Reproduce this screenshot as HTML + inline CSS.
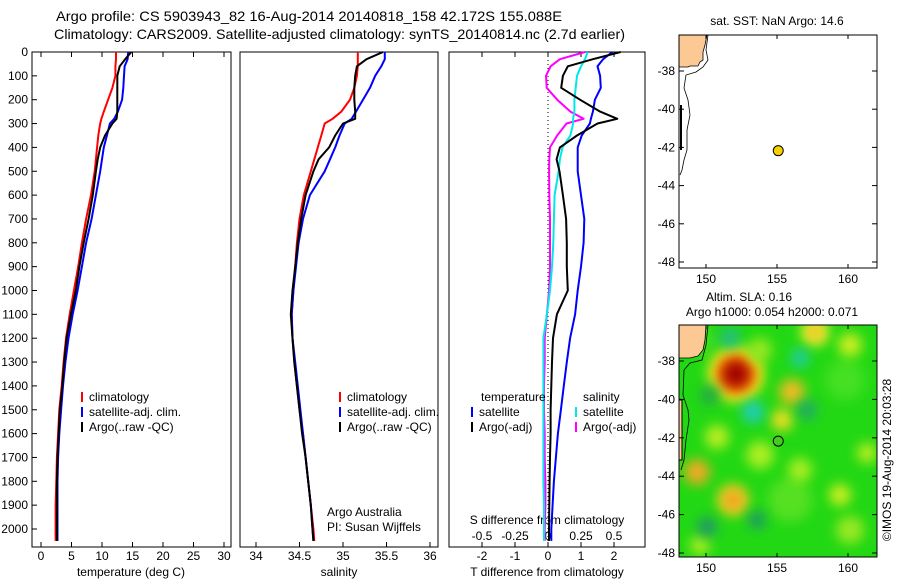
<!DOCTYPE html>
<html><head><meta charset="utf-8"><style>
html,body{margin:0;padding:0;background:#fff;}
svg{display:block;font-family:"Liberation Sans",sans-serif;}
text{font-size:12px;fill:#000;}
.t{font-size:14px;}
</style></head><body>
<svg id="c" width="900" height="580" viewBox="0 0 900 580">
<text class="t" x="56" y="21" textLength="506" lengthAdjust="spacingAndGlyphs">Argo profile: CS 5903943_82 16-Aug-2014 20140818_158 42.172S 155.088E</text>
<text class="t" x="54" y="39" textLength="571" lengthAdjust="spacingAndGlyphs">Climatology: CARS2009. Satellite-adjusted climatology: synTS_20140814.nc (2.7d earlier)</text>
<g id="g"></g>
</svg>
<script>
// ---- data ----
const depthsT = [0,30,60,100,150,200,250,280,300,350,400,450,500,600,700,800,900,1000,1100,1200,1300,1400,1500,1600,1700,1800,1900,2000,2050];
const tempClim = [12.3,12.3,12.2,12.2,11.7,11.0,10.3,9.9,9.7,9.4,9.2,9.0,8.8,8.2,7.4,6.7,6.1,5.4,4.7,4.1,3.7,3.4,3.0,2.8,2.6,2.5,2.4,2.4,2.4];
const tempSat = [14.3,14.2,13.7,13.6,13.5,13.3,12.6,12.0,11.3,10.8,10.3,10.0,9.7,9.0,8.3,7.4,6.7,6.0,5.2,4.5,4.0,3.6,3.3,3.0,2.8,2.7,2.7,2.7,2.7];
const tempArgo = [14.8,13.8,12.9,12.5,12.5,12.5,12.5,12.4,11.7,10.5,9.7,9.3,9.0,8.5,7.8,7.0,6.3,5.7,4.9,4.2,3.8,3.5,3.1,2.9,2.7,2.6,2.6,2.6,2.6];
const salClim = [35.17,35.17,35.17,35.16,35.13,35.08,34.98,34.88,34.79,34.75,34.71,34.67,34.63,34.55,34.50,34.47,34.45,34.43,34.41,34.42,34.44,34.47,34.50,34.54,34.57,34.60,34.63,34.66,34.67];
const salSat = [35.48,35.48,35.44,35.37,35.31,35.23,35.15,35.10,35.02,34.96,34.91,34.85,34.79,34.62,34.54,34.49,34.46,34.43,34.41,34.42,34.45,34.48,34.51,34.54,34.57,34.60,34.63,34.65,34.66];
const salArgo = [35.46,35.27,35.16,35.14,35.13,35.13,35.14,35.14,35.00,34.91,34.84,34.72,34.66,34.57,34.52,34.48,34.45,34.42,34.40,34.42,34.44,34.47,34.50,34.53,34.57,34.60,34.63,34.65,34.66];
const dT_argo = [2.2,1.36,0.6,0.45,0.4,0.97,1.58,2.1,1.5,0.88,0.36,0.26,0.35,0.45,0.55,0.57,0.57,0.6,0.27,0.15,0.12,0.1,0.08,0.08,0.06,0.05,0.04,0.03,0.03];
const dT_sat = [1.95,1.67,1.5,1.58,1.6,1.42,1.36,1.3,1.27,1.02,0.9,0.9,0.9,1.0,1.1,1.08,1.0,0.9,0.82,0.67,0.57,0.48,0.39,0.3,0.24,0.18,0.14,0.1,0.1];
const dS_argo = [0.28,0.09,0.02,-0.015,-0.01,0.07,0.17,0.27,0.14,0.07,0.015,0.01,0.008,0.01,0.015,0.015,0.015,0.008,-0.008,-0.025,-0.025,-0.03,-0.03,-0.025,-0.025,-0.02,-0.02,-0.025,-0.025];
const dS_sat = [0.3,0.28,0.25,0.22,0.21,0.2,0.2,0.19,0.19,0.17,0.11,0.09,0.08,0.05,0.045,0.04,0.03,0.015,-0.008,-0.035,-0.035,-0.035,-0.035,-0.035,-0.035,-0.035,-0.03,-0.03,-0.03];
const depthTicks = [0,100,200,300,400,500,600,700,800,900,1000,1100,1200,1300,1400,1500,1600,1700,1800,1900,2000];
const tempTicks = [0,5,10,15,20,25,30];
const salTicks = [34,34.5,35,35.5,36];
const dTTicks = [-2,-1,0,1,2];
const dSTicks = [-0.5,-0.25,0,0.25,0.5];
const dSTickLabels = ["-0.5","-0.25","0","0.25","0.5"];
const latTicks = [-38,-40,-42,-44,-46,-48];
const lonTicks = [150,155,160];
const argoLon = 155.088, argoLat = -42.172;

// ---- axis functions ----
const NS='http://www.w3.org/2000/svg';
const G=document.getElementById('g');
const yD = d => 52 + d*0.2385;
const xT = v => 41 + v*6.1;
const xS = v => 256 + (v-34)*87;
const xDT = v => 548 + v*33;
const xDS = v => 548 + v*132;
const lonX = v => 706 + (v-150)*14.2;
const lat1 = v => 71 + (-38 - v)*19.1;
const lat2 = v => 361 + (-38 - v)*19.2;

function mk(tag, attrs, parent){const e=document.createElementNS(NS,tag);for(const k in attrs)e.setAttribute(k,attrs[k]);(parent||G).appendChild(e);return e;}
function txt(x,y,s,anchor,parent){const e=mk('text',{x:x,y:y,'text-anchor':anchor||'start'},parent);e.textContent=s;return e;}
function line(vals, xf, color, name, w){
  const pts = vals.map((v,i)=>xf(v).toFixed(1)+','+yD(depthsT[i]).toFixed(1)).join(' ');
  const p=mk('polyline',{points:pts,fill:'none',stroke:color,'stroke-width':w||2,'stroke-linejoin':'round'});
  
  
}

// panel frames
const panels=[[32,231],[240,438],[449,645]];
panels.forEach((p,i)=>{
  const r=mk('rect',{x:p[0],y:52,width:p[1]-p[0],height:495,fill:'none',stroke:'#000','stroke-width':1});
  
  
});
depthTicks.forEach(d=>{
  const y=yD(d);
  mk('line',{x1:32,x2:37,y1:y,y2:y,stroke:'#000'});
  const t=txt(28,y+4,String(d),'end');
  
  
});
function xticks(ticks,f,labels,ylab,top){
  ticks.forEach((v,i)=>{
    const x=f(v);
    if(top){mk('line',{x1:x,x2:x,y1:52,y2:57,stroke:'#000'});}
    mk('line',{x1:x,x2:x,y1:547,y2:542,stroke:'#000'});
    const t=txt(x,ylab,labels?labels[i]:String(v),'middle');
    
    
  });
}
xticks(tempTicks,xT,null,560,true);
xticks(salTicks,xS,null,560,false);
xticks(dTTicks,xDT,null,560,false);
dSTicks.forEach(v=>{const x=xDS(v);mk('line',{x1:x,x2:x,y1:52,y2:57,stroke:'#000'});});
dSTicks.forEach((v,i)=>{const t=txt(xDS(v),540,dSTickLabels[i],'middle');
  
  });
[[131,576,'temperature (deg C)','x-axis-title-temperature'],[339,576,'salinity','x-axis-title-salinity'],[547,576,'T difference from climatology','x-axis-title-tdiff'],[547,524,'S difference from climatology','x-axis-title-sdiff']].forEach(a=>{
  const t=txt(a[0],a[1],a[2],'middle');
  
  
});
mk('line',{x1:548,x2:548,y1:52,y2:547,stroke:'#000','stroke-dasharray':'1,3'});

line(tempClim,xT,'#ff0000','temp-climatology-line');
line(tempSat,xT,'#0000ff','temp-satellite-line');
line(tempArgo,xT,'#000000','temp-argo-line');
line(salClim,xS,'#ff0000','sal-climatology-line');
line(salSat,xS,'#0000ff','sal-satellite-line');
line(salArgo,xS,'#000000','sal-argo-line');
line(dS_argo,xDS,'#ff00ff','sdiff-argo-line');
line(dS_sat,xDS,'#00e8e8','sdiff-satellite-line');
line(dT_sat,xDT,'#0000ff','tdiff-satellite-line');
line(dT_argo,xDT,'#000000','tdiff-argo-line');

function leg(x,y,color,label){
  mk('line',{x1:x,x2:x,y1:y-9,y2:y+1,stroke:color,'stroke-width':2});
  const t=txt(x+7,y,label);
  
  
}
[[82,'climatology','#ff0000'],[82,'satellite-adj. clim.','#0000ff'],[82,'Argo(..raw -QC)','#000000']].forEach((a,i)=>leg(a[0],401+i*15,a[2],a[1]));
[[340,'climatology','#ff0000'],[340,'satellite-adj. clim.','#0000ff'],[340,'Argo(..raw -QC)','#000000']].forEach((a,i)=>leg(a[0],401+i*15,a[2],a[1]));
txt(481,401,'temperature');txt(583,401,'salinity');
leg(472,416,'#0000ff','satellite');leg(472,431,'#000000','Argo(-adj)');
leg(576,416,'#00e8e8','satellite');leg(576,431,'#ff00ff','Argo(-adj)');
txt(327,516,'Argo Australia');txt(327,531,'PI: Susan Wijffels');

// ---- maps ----
function map(top,bot,idx){
  const defs=mk('defs',{});
  const cp=mk('clipPath',{id:'cp'+idx},defs);
  mk('rect',{x:679,y:top,width:198,height:bot-top},cp);
}
map(35,268,1);
const m1=mk('g',{'clip-path':'url(#cp1)'});


mk('rect',{x:679,y:35,width:198,height:233,fill:'#fff'},m1);
mk('path',{d:'M679,35 L707,35 L705,45 L703,52 L703,60 L700,62 L698,66 L690,66 L688,67 L679,67 Z',fill:'#fcc894',stroke:'#000','stroke-width':0.8},m1);
mk('path',{d:'M708,35 L706,50 L708,60 L703,67 L696,72 L686,75 L684,88 L688,100 L690,115 L687,130 L687,150 L684,160 L682,170 L680,175',fill:'none',stroke:'#000','stroke-width':0.8},m1);
mk('path',{d:'M681,105 L681,150',fill:'none',stroke:'#000','stroke-width':2},m1);
mk('rect',{x:679,y:35,width:198,height:233,fill:'none',stroke:'#000'});

map(325,557,2);
const m2=mk('g',{'clip-path':'url(#cp2)'});


const d2=mk('defs',{});
const f=mk('filter',{id:'bl',x:'-50%',y:'-50%',width:'200%',height:'200%'},d2);
mk('feGaussianBlur',{stdDeviation:6},f);
mk('rect',{x:679,y:325,width:198,height:232,fill:'#22d814'},m2);
const blobs=[[700,340,14,'#44e022'],[845,380,20,'#44e022'],[790,500,22,'#55e022'],[736,374,28,'#eeee22'],[736,374,20,'#ee6600'],[736,374,13,'#a00000'],[760,350,12,'#99e822'],[815,332,14,'#eeee33'],[815,332,7,'#eebb22'],[850,345,12,'#ccee22'],[792,392,13,'#eebb22'],[782,420,11,'#eedd22'],[697,472,13,'#eeaa22'],[733,500,16,'#eecc22'],[733,500,8,'#ee9922'],[840,495,11,'#ccee22'],[717,437,12,'#bbee22'],[867,453,10,'#bbee22'],[760,455,14,'#aaee22'],[800,470,12,'#aaee22'],[850,530,14,'#99e822'],[700,545,10,'#aaee22'],[730,338,10,'#22bb88'],[800,358,9,'#22ccaa'],[753,412,11,'#22ccbb'],[807,410,10,'#22aa66'],[707,527,10,'#229966'],[757,520,9,'#229966'],[710,395,10,'#22aa44']];
blobs.forEach(b=>{const c=mk('circle',{cx:b[0],cy:b[1],r:b[2],fill:b[3],filter:'url(#bl)'},m2);
  
  });
mk('path',{d:'M679,325 L706,325 L705,340 L703,350 L698,356 L690,358 L679,358 Z',fill:'#fcc894',stroke:'#000','stroke-width':0.8},m2);
mk('path',{d:'M708,325 L706,345 L702,360 L690,363 L684,370 L683,395 L688,410 L689,420 L686,440 L684,460 L681,470',fill:'none',stroke:'#000','stroke-width':0.8},m2);
mk('path',{d:'M679,400 L682,400 L682,460 L679,460 Z',fill:'#fcc894',stroke:'#000','stroke-width':1},m2);
mk('rect',{x:679,y:325,width:198,height:232,fill:'none',stroke:'#000'});
[[lat1,35,268],[lat2,325,557]].forEach((m,i)=>{
  latTicks.forEach(v=>{const y=m[0](v);if(y<m[1]||y>m[2]+1)return;
    mk('line',{x1:679,x2:684,y1:y,y2:y,stroke:'#000'});mk('line',{x1:877,x2:872,y1:y,y2:y,stroke:'#000'});
    const t=txt(675,y+4,String(v),'end');
    
    });
  lonTicks.forEach(v=>{const x=lonX(v);
    mk('line',{x1:x,x2:x,y1:m[1],y2:m[1]+4,stroke:'#000'});mk('line',{x1:x,x2:x,y1:m[2],y2:m[2]-4,stroke:'#000'});
    const t=txt(x,m[2]+15,String(v),'middle');
    
    });
});
const p1=mk('circle',{cx:lonX(argoLon),cy:lat1(argoLat),r:5,fill:'#f8d000',stroke:'#000','stroke-width':1});


const p2=mk('circle',{cx:lonX(argoLon),cy:lat2(argoLat),r:5,fill:'#44cc22',stroke:'#000','stroke-width':1});


txt(777,25,'sat. SST: NaN Argo: 14.6','middle');
txt(749,301,'Altim. SLA: 0.16','middle');
txt(772,316,'Argo h1000: 0.054 h2000: 0.071','middle');
const cr=txt(0,0,'\u00a9IMOS 19-Aug-2014 20:03:28','middle');
cr.setAttribute('transform','translate(891,460) rotate(-90)');


</script>
</body></html>
